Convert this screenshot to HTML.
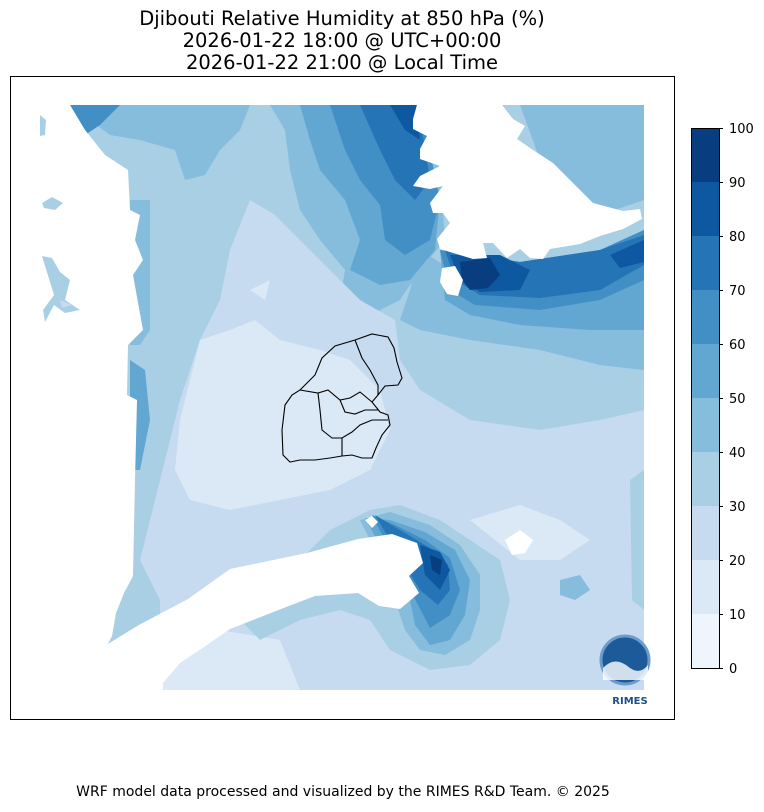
<!DOCTYPE html>
<html><head><meta charset="utf-8"><style>
html,body{margin:0;padding:0;background:#fff;}
body{width:764px;height:808px;overflow:hidden;font-family:"DejaVu Sans","Liberation Sans",sans-serif;}
</style></head><body>
<svg width="764" height="808" viewBox="0 0 764 808" xmlns="http://www.w3.org/2000/svg" font-family="DejaVu Sans, Liberation Sans, sans-serif">
<rect width="764" height="808" fill="#fff"/>
<text x="342" y="25" font-size="19.5" text-anchor="middle">Djibouti Relative Humidity at 850 hPa (%)</text>
<text x="342" y="47" font-size="19.5" text-anchor="middle">2026-01-22 18:00 @ UTC+00:00</text>
<text x="342" y="69" font-size="19.5" text-anchor="middle">2026-01-22 21:00 @ Local Time</text>

<defs><clipPath id="c"><rect x="40" y="105" width="604" height="585"/></clipPath></defs>
<g clip-path="url(#c)">
<rect x="40" y="105" width="604" height="585" fill="#a9cfe5"/>
<path fill="#86bcdc" d="M70,105 L250,105 L240,130 L220,150 L205,175 L185,180 L175,150 L140,140 L110,135 Z"/>
<path fill="#86bcdc" d="M270,105 L420,105 L440,170 L445,240 L420,270 L400,300 L360,320 L330,315 L340,300 L345,270 L320,240 L300,210 L290,170 L285,130 Z"/>
<path fill="#86bcdc" d="M420,250 L500,300 L560,300 L644,280 L644,370 L600,365 L540,350 L470,340 L420,330 L400,320 L410,290 Z"/>
<path fill="#86bcdc" d="M520,105 L644,105 L644,200 L600,215 L560,190 L540,160 Z"/>
<path fill="#62a7d2" d="M300,105 L420,105 L440,200 L435,250 L410,280 L380,285 L350,270 L360,240 L345,200 L320,170 L310,140 Z"/>
<path fill="#62a7d2" d="M440,250 L520,262 L600,250 L644,230 L644,330 L590,330 L520,325 L470,315 L445,300 Z"/>
<path fill="#428fc6" d="M330,105 L420,105 L440,200 L430,240 L405,255 L385,240 L380,205 L360,180 L345,150 Z"/>
<path fill="#428fc6" d="M440,250 L520,262 L600,250 L644,230 L644,280 L600,300 L540,310 L475,305 L450,290 Z"/>
<path fill="#428fc6" d="M70,105 L120,105 L100,125 L85,135 Z"/>
<path fill="#2474b6" d="M360,105 L418,105 L430,180 L415,200 L395,180 L380,150 Z"/>
<path fill="#2474b6" d="M445,250 L520,262 L600,250 L644,235 L644,265 L600,290 L540,298 L480,295 L455,280 Z"/>
<path fill="#0d58a1" d="M390,105 L416,105 L420,140 L405,130 Z"/>
<path fill="#0d58a1" d="M450,255 L500,255 L530,270 L520,290 L480,292 L460,280 Z"/>
<path fill="#0d58a1" d="M610,255 L644,240 L644,262 L620,268 Z"/>
<path fill="#083d7f" d="M460,262 L490,258 L500,275 L488,288 L470,290 L462,280 Z"/>

<path fill="#c6dbef" d="M250,200 L275,215 L300,240 L330,270 L360,300 L395,320 L400,360 L420,390 L470,420 L540,430 L600,420 L644,410 L644,690 L160,690 L160,600 L140,560 L150,520 L160,480 L170,440 L180,400 L190,370 L200,340 L220,300 L230,250 Z"/>
<path fill="#dbe9f6" d="M200,340 L230,330 L255,320 L280,340 L320,350 L350,360 L380,390 L390,430 L370,470 L330,490 L280,500 L230,510 L190,500 L175,470 L180,420 L190,380 Z"/>
<path fill="#dbe9f6" d="M250,290 L270,280 L265,300 Z"/>
<path fill="#dbe9f6" d="M470,520 L520,505 L560,520 L590,540 L560,560 L520,560 Z"/>
<path fill="#dbe9f6" d="M170,640 L220,630 L280,640 L300,690 L160,690 Z"/>
<path fill="#a9cfe5" d="M330,530 L370,510 L400,505 L440,520 L470,540 L500,560 L510,600 L500,640 L470,665 L430,670 L390,650 L370,620 L340,610 L300,620 L260,640 L240,620 L280,580 L300,560 Z"/>
<path fill="#86bcdc" d="M360,520 L390,512 L430,525 L460,545 L480,575 L480,610 L470,640 L445,655 L420,650 L405,630 L395,600 L380,560 Z"/>
<path fill="#62a7d2" d="M365,518 L390,520 L425,532 L455,550 L470,580 L465,615 L450,640 L430,645 L415,625 L410,600 Z"/>
<path fill="#428fc6" d="M372,515 L395,525 L425,540 L450,558 L460,590 L450,615 L430,628 L418,605 Z"/>
<path fill="#2474b6" d="M375,515 L400,530 L430,548 L448,565 L450,590 L438,605 L420,590 Z"/>
<path fill="#0d58a1" d="M420,545 L440,552 L450,570 L440,590 L425,575 Z"/>
<path fill="#083d7f" d="M430,555 L442,560 L440,575 L432,570 Z"/>
<path fill="#a9cfe5" d="M630,480 L644,470 L644,610 L632,600 Z"/>
<path fill="#86bcdc" d="M560,580 L580,575 L590,590 L575,600 L560,595 Z"/>
<path fill="#86bcdc" d="M130,200 L150,200 L150,330 L140,345 L130,345 Z"/>
<path fill="#62a7d2" d="M130,360 L145,370 L150,420 L140,470 L130,470 Z"/>

<path fill="#fff" d="M40,105 L70,105 L85,130 L105,155 L128,170 L130,210 L140,215 L135,240 L143,260 L133,275 L143,330 L128,345 L127,395 L137,400 L135,480 L133,576 L124,593 L116,613 L112,636 L108,644 L137,626 L188,599 L230,569 L307,553 L358,539 L392,534 L417,543 L423,563 L409,576 L419,593 L400,609 L379,606 L358,593 L315,596 L281,609 L230,629 L201,649 L180,663 L163,683 L163,690 L40,690 Z"/>
<path fill="#fff" d="M417,105 L502,105 L513,119 L525,126 L517,139 L530,148 L553,163 L573,183 L593,203 L623,211 L640,209 L642,219 L623,229 L600,236 L580,244 L550,249 L543,259 L530,258 L520,249 L507,258 L493,243 L483,243 L487,258 L473,259 L440,249 L437,239 L450,223 L443,213 L433,213 L430,203 L443,186 L430,189 L413,186 L420,176 L440,166 L420,159 L420,149 L427,136 L413,129 L413,119 Z"/>
<path fill="#fff" d="M442,268 L455,266 L463,280 L458,296 L447,294 L440,282 Z"/>
<path fill="#fff" d="M505,540 L520,530 L533,540 L525,553 L512,555 Z"/>
<path fill="#fff" d="M365,520 L372,516 L378,522 L372,528 Z"/>
<path fill="#a9cfe5" d="M40,115 L46,120 L45,135 L40,136 Z"/>
<path fill="#a9cfe5" d="M42,203 L52,197 L63,203 L55,210 L44,208 Z"/>
<path fill="#a9cfe5" d="M42,256 L52,258 L60,272 L70,280 L65,300 L80,310 L65,313 L54,305 L45,322 L43,310 L54,295 Z"/>
<path fill="#c6dbef" d="M60,300 L72,305 L62,308 Z"/>
</g>
<g fill="none" stroke="#000" stroke-width="1.1">
<path d="M300,390 L315,375 L322,358 L335,346 L355,340 L372,334 L388,337 L394,348 L397,362 L402,378 L398,385 L385,386 L378,395 L372,402 L380,412 L388,415 L390,425 L382,435 L376,448 L372,458 L362,458 L352,455 L342,456 L330,458 L315,460 L300,460 L290,462 L283,455 L282,430 L285,405 L292,395 Z"/>
<path d="M300,390 L318,393 L328,390 L340,400 L350,398 L360,392 L372,402"/>
<path d="M355,340 L362,358 L370,370 L378,385 L378,395"/>
<path d="M318,393 L320,410 L322,430 L332,438 L342,438 L352,432 L360,425 L372,420 L388,420"/>
<path d="M342,438 L342,456"/>
<path d="M340,400 L345,412 L355,414 L365,410 L378,410"/>
</g>
<circle cx="625" cy="660" r="24" fill="#1d5a9a" stroke="#6c9ccc" stroke-width="3"/>
<path d="M603,668 Q615,655 630,668 Q640,675 648,665 L648,680 L603,680 Z" fill="#fff" opacity="0.8"/>
<text x="630" y="704" font-size="10" font-weight="bold" fill="#1d4f8a" text-anchor="middle">RIMES</text>
<rect x="10.5" y="76.5" width="664" height="643" fill="none" stroke="#000" stroke-width="1"/>

<g>
<rect x="691" y="128" width="28" height="54" fill="#083d7f"/>
<rect x="691" y="182" width="28" height="54" fill="#0d58a1"/>
<rect x="691" y="236" width="28" height="54" fill="#2474b6"/>
<rect x="691" y="290" width="28" height="54" fill="#428fc6"/>
<rect x="691" y="344" width="28" height="54" fill="#62a7d2"/>
<rect x="691" y="398" width="28" height="54" fill="#86bcdc"/>
<rect x="691" y="452" width="28" height="54" fill="#a9cfe5"/>
<rect x="691" y="506" width="28" height="54" fill="#c6dbef"/>
<rect x="691" y="560" width="28" height="54" fill="#dbe9f6"/>
<rect x="691" y="614" width="28" height="54" fill="#eff5fc"/>
<rect x="691.5" y="128.5" width="28" height="540" fill="none" stroke="#000" stroke-width="1"/>
<g stroke="#000"><line x1="719" x2="723" y1="128.5" y2="128.5"/><line x1="719" x2="723" y1="182.5" y2="182.5"/><line x1="719" x2="723" y1="236.5" y2="236.5"/><line x1="719" x2="723" y1="290.5" y2="290.5"/><line x1="719" x2="723" y1="344.5" y2="344.5"/><line x1="719" x2="723" y1="398.5" y2="398.5"/><line x1="719" x2="723" y1="452.5" y2="452.5"/><line x1="719" x2="723" y1="506.5" y2="506.5"/><line x1="719" x2="723" y1="560.5" y2="560.5"/><line x1="719" x2="723" y1="614.5" y2="614.5"/><line x1="719" x2="723" y1="668.5" y2="668.5"/></g>
<g font-size="13" fill="#000"><text x="729" y="133">100</text><text x="729" y="187">90</text><text x="729" y="241">80</text><text x="729" y="295">70</text><text x="729" y="349">60</text><text x="729" y="403">50</text><text x="729" y="457">40</text><text x="729" y="511">30</text><text x="729" y="565">20</text><text x="729" y="619">10</text><text x="729" y="673">0</text></g>
</g>
<text x="343" y="796" font-size="14" text-anchor="middle">WRF model data processed and visualized by the RIMES R&amp;D Team. © 2025</text>
</svg>
</body></html>
